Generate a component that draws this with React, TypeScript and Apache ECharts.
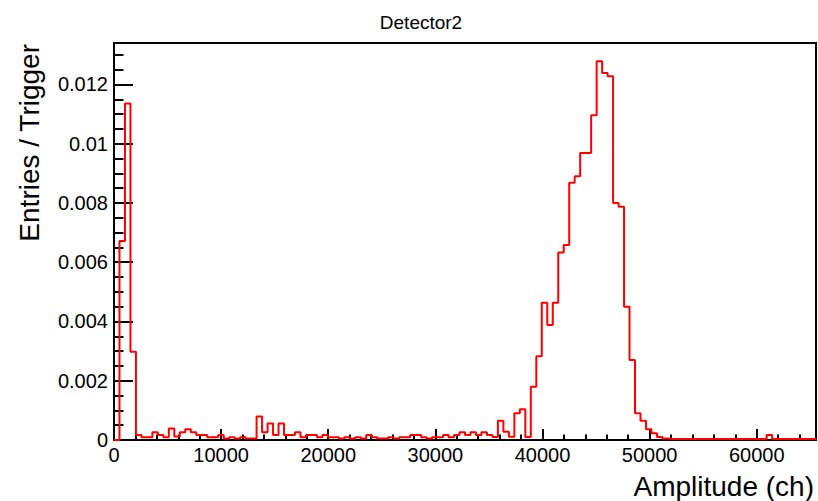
import React, { useEffect, useRef } from "react";
import * as echarts from "echarts";

// Histogram: 128 bins of 512 channels each (0 .. 65536)
const binWidth = 512;
const nBins = 128;
const entriesPerTrigger: number[] = [
  0, 0.00672, 0.01136, 0.00298, 0.00017, 0.00009, 0.00009, 0.00026,
  0.00017, 0.00009, 0.00039, 0.00012, 0.00026, 0.00036, 0.00026, 0.00017,
  0.00017, 0.00009, 0.00009, 0.00017, 0.00005, 0.00009, 0.00005, 0.00009,
  0.00005, 0.00005, 0.00079, 0.00026, 0.00056, 0.00017, 0.00056, 0.00017,
  0.00017, 0.00026, 0.00009, 0.00017, 0.00017, 0.00009, 0.00017, 0.00009,
  0.00009, 0.00005, 0.00009, 0.00005, 0.00009, 0.00005, 0.00017, 0.00009,
  0.00005, 0.00005, 0.00009, 0.00005, 0.00009, 0.00009, 0.00017, 0.00017,
  0.00009, 0.00005, 0.00009, 0.00009, 0.00017, 0.00009, 0.00017, 0.00026,
  0.00017, 0.00026, 0.00017, 0.00026, 0.00017, 0.0001, 0.00065, 0.00028,
  0.00011, 0.0009, 0.00104, 0.0001, 0.0018, 0.00283, 0.00463, 0.00388,
  0.00463, 0.00633, 0.00658, 0.00868, 0.0089, 0.00969, 0.00969, 0.01096,
  0.01278, 0.01239, 0.01228, 0.008, 0.00787, 0.0045, 0.0027, 0.0009,
  0.00065, 0.00036, 0.00023, 0.0001, 0.00005, 0.00003, 0.00003, 0.00003,
  0.00003, 0.00003, 0.00003, 0.00003, 0.00003, 0.00003, 0.00003, 0.00003,
  0.00003, 0.00003, 0.00003, 0.00003, 0.00003, 0.00003, 0.00003, 0.00017,
  0.00003, 0.00003, 0.00003, 0.00003, 0.00003, 0.00003, 0.00003, 0.00003,
];

const xMax = 65536;
const xInterval = 10000;
const yMax = 0.0134;
const yInterval = 0.002;

const title = "Detector2";
const xTitle = "Amplitude (ch)";
const yTitle = "Entries / Trigger";

const FONT = "'Liberation Sans', Arial, Helvetica, sans-serif";

export default function App() {
  const ref = useRef<HTMLDivElement>(null);

  useEffect(() => {
    if (!ref.current) return;
    const chart = echarts.init(ref.current, undefined, { renderer: "svg" });

    const data: [number, number][] = entriesPerTrigger.map((v, i) => [i * binWidth, v]);
    data.push([nBins * binWidth, 0]);

    chart.setOption({
      animation: false,
      backgroundColor: "#ffffff",
      grid: {
        left: 114,
        top: 43,
        width: 702,
        height: 397,
        show: true,
        borderColor: "#000",
        borderWidth: 2,
        backgroundColor: "transparent",
      },
      xAxis: {
        type: "value",
        min: 0,
        max: xMax,
        interval: xInterval,
        axisLine: { show: true, lineStyle: { color: "#000", width: 2 } },
        axisTick: { show: true, inside: true, length: 11, lineStyle: { color: "#000", width: 2 } },
        minorTick: { show: true, splitNumber: 5, length: 5.5, lineStyle: { color: "#000", width: 2 } },
        splitLine: { show: false },
        minorSplitLine: { show: false },
        axisLabel: {
          show: true,
          color: "#000",
          fontSize: 20,
          fontFamily: FONT,
          margin: 5,
          showMaxLabel: false,
          formatter: (v: number) => String(Math.round(v)),
        },
      },
      yAxis: {
        type: "value",
        min: 0,
        max: yMax,
        interval: yInterval,
        axisLine: { show: true, lineStyle: { color: "#000", width: 2 } },
        axisTick: { show: true, inside: true, length: 19, lineStyle: { color: "#000", width: 2 } },
        minorTick: { show: true, splitNumber: 4, length: 9.5, lineStyle: { color: "#000", width: 2 } },
        splitLine: { show: false },
        minorSplitLine: { show: false },
        axisLabel: {
          show: true,
          color: "#000",
          fontSize: 20,
          fontFamily: FONT,
          margin: 6,
          showMaxLabel: false,
          formatter: (v: number) => String(parseFloat(v.toFixed(4))),
        },
      },
      graphic: [
        {
          type: "text",
          x: 421,
          y: 22,
          style: {
            text: title,
            fontSize: 19,
            fontFamily: FONT,
            fill: "#000",
            align: "center",
            verticalAlign: "middle",
          },
        },
        {
          type: "text",
          x: 814,
          y: 486,
          style: {
            text: xTitle,
            fontSize: 28,
            fontFamily: FONT,
            fill: "#000",
            align: "right",
            verticalAlign: "middle",
          },
        },
        {
          type: "text",
          x: 29,
          y: 44,
          rotation: Math.PI / 2,
          style: {
            text: yTitle,
            fontSize: 28,
            fontFamily: FONT,
            fill: "#000",
            align: "right",
            verticalAlign: "middle",
          },
        },
      ],
      series: [
        {
          type: "line",
          data,
          step: "end",
          symbol: "none",
          clip: true,
          lineStyle: { color: "#ff0000", width: 2 },
          z: 3,
        },
      ],
    });

    return () => chart.dispose();
  }, []);

  return (
    <div
      ref={ref}
      style={{ position: "fixed", left: 0, top: 0, width: 818, height: 501, background: "#fff" }}
    />
  );
}
